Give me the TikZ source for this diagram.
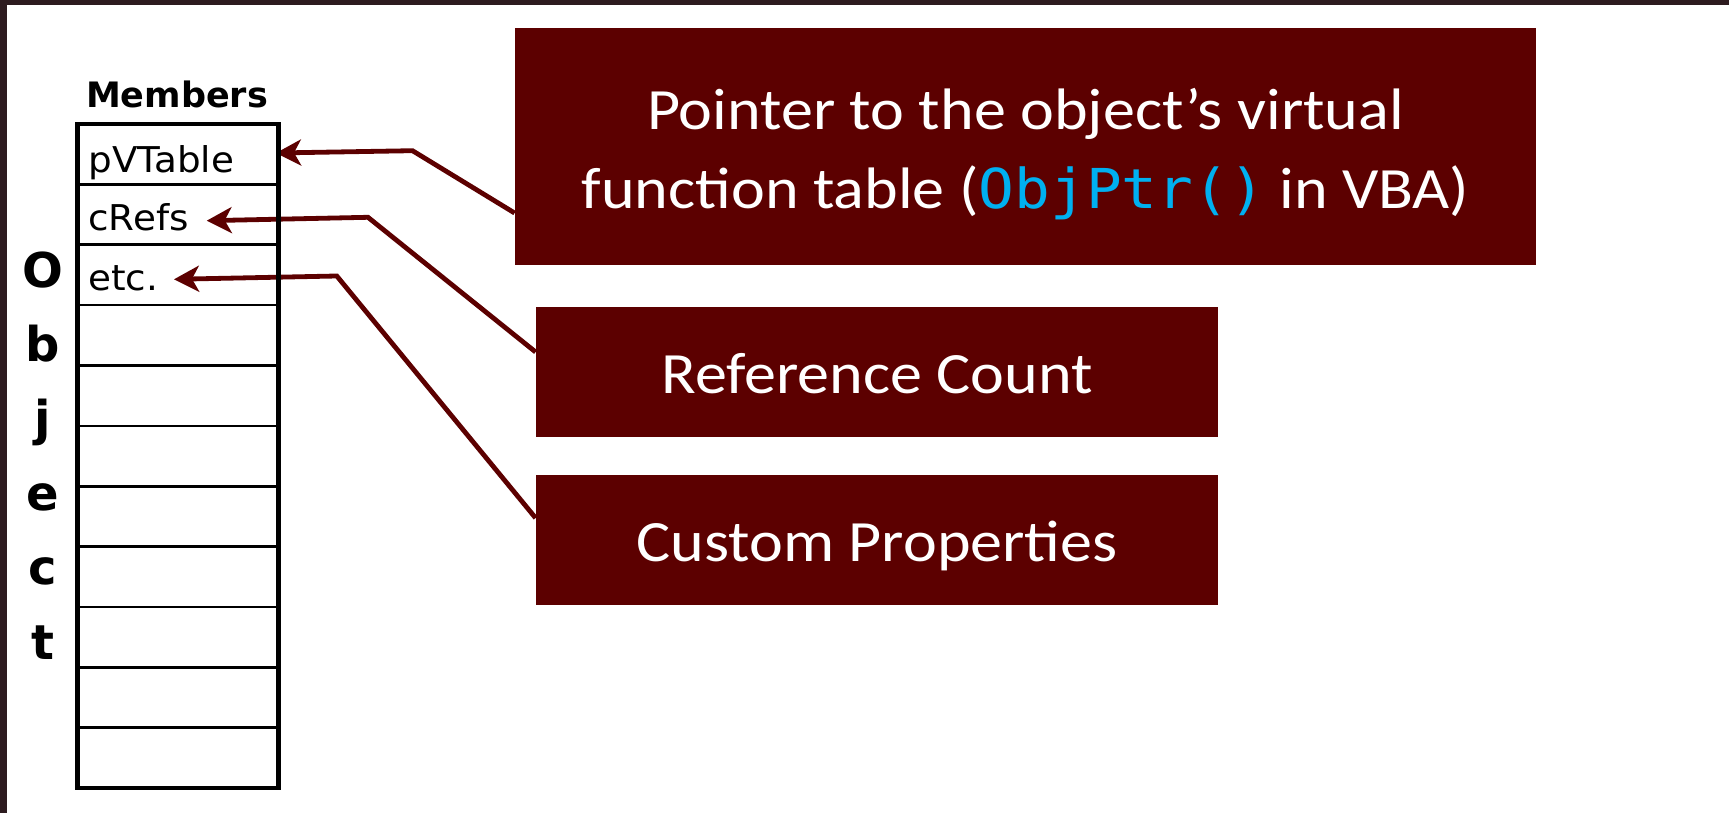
\documentclass[tikz,border=0pt]{standalone}
\usepackage{fontspec}
\setmainfont[FakeStretch=1.095]{Carlito}
\newfontfamily\tahfont{DejaVu Sans}
\newfontfamily\rowfont[FakeStretch=1.05]{DejaVu Sans}
\newfontfamily\codefont[FakeStretch=1.08]{DejaVu Sans Mono}
\usetikzlibrary{arrows.meta}
\definecolor{boxred}{HTML}{5C0000}
\definecolor{framec}{HTML}{2D1B1F}
\definecolor{codeblue}{HTML}{00B0F0}
\begin{document}
\begin{tikzpicture}[x=0.5pt,y=-0.5pt,
  box/.style={fill=boxred, draw=none, text=white, inner sep=0pt,
    font=\fontsize{29.25}{39.5}\selectfont},
  arr/.style={draw=boxred, line width=2.4pt,
    -{Stealth[length=12.5pt,width=13pt,inset=3.5pt]}},
  rowtxt/.style={font=\rowfont\fontsize{17.75}{20}\selectfont, inner sep=0pt, anchor=base west},
  objl/.style={font=\tahfont\bfseries\fontsize{24}{26}\selectfont, inner sep=0pt, anchor=base},
  rowline/.style={line width=1.3pt, draw=black},
  tblframe/.style={draw=black, line width=2.4pt, fill=none, inner sep=0pt,
    minimum width=100.5pt, minimum height=332pt}
]
\useasboundingbox (0,0) rectangle (1729,813);
\fill[framec] (0,0) rectangle (1729,4.7);
\fill[framec] (0,0) rectangle (6.5,813);

% boxes
\node[box, minimum width=510.5pt, minimum height=118.5pt, align=center] (b1) at (1025.5,146.5)
  {\rule{0pt}{28pt}Pointer to the object’s virtual\\function table ({\codefont\fontsize{27.5}{39.5}\selectfont\color{codeblue}ObjPtr()} in VBA)};
\node[box, minimum width=341pt, minimum height=65pt, text height=21.5pt, text depth=0pt] (b2) at (877,372) {Reference Count};
\node[box, minimum width=341pt, minimum height=65pt, text height=21.5pt, text depth=0pt] (b3) at (877,540) {Custom Properties};

% header and letters
\node[font=\tahfont\bfseries\fontsize{17.5}{20}\selectfont, inner sep=0pt, anchor=base] (mem) at (177,108) {Members};
\node[objl] (o1) at (43,287) {O};
\node[objl] (o2) at (43,361.4) {b};
\node[objl] (o3) at (43,435.8) {j};
\node[objl] (o4) at (43,510.2) {e};
\node[objl] (o5) at (43,584.6) {c};
\node[objl] (o6) at (43,659) {t};

% row texts
\node[rowtxt] (r1) at (88,172) {pVTable};
\node[rowtxt] (r2) at (88,230) {cRefs};
\node[rowtxt] (r3) at (88,290) {etc.};

% arrow ends
\coordinate (t1) at (276,153);
\coordinate (t2) at (206.7,220.7);
\coordinate (t3) at (174,279.3);
\coordinate (s1) at ([yshift=-33.25pt]b1.west);
\coordinate (s2) at ([yshift=10pt]b2.west);
\coordinate (s3) at ([yshift=11pt]b3.west);

\draw[arr] (s1) -- (412.5,150.7) -- (t1);
\draw[arr] (s2) -- (368,217.3) -- (t2);
\draw[arr] (s3) -- (336.8,276) -- (t3);

% table
\foreach \yy in {184.4,244.7,305.1,365.4,425.8,486.2,546.5,606.9,667.3,727.6}
  \draw[rowline] (77.5,\yy) -- (278.5,\yy);
\node[tblframe] (tbl) at (178,456) {};
\end{tikzpicture}
\end{document}
